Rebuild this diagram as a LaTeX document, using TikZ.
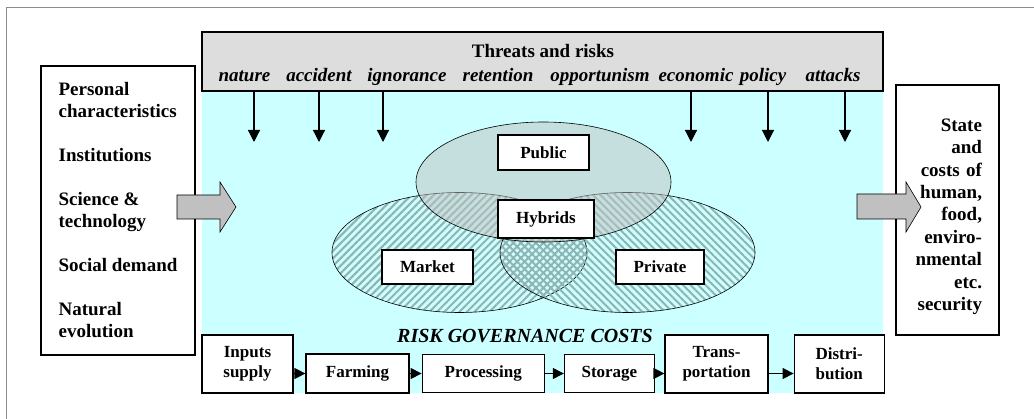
\documentclass[tikz,border=0pt]{standalone}
\usepackage{fontspec}
\setmainfont{Liberation Serif}
\usetikzlibrary{positioning,shapes.geometric,arrows.meta,patterns.meta}
\definecolor{riskcyan}{HTML}{CCFFFF}
\definecolor{threatgray}{HTML}{DDDDDD}
\definecolor{blockgray}{HTML}{C0C0C0}

\begin{document}
\begin{tikzpicture}[x=1pt,y=-1pt,
box/.style={rectangle, draw=black, fill=white, line width=1.2pt, inner sep=0pt, align=center, font=\bfseries\fontsize{17}{20}\selectfont},
sidebox/.style={rectangle, draw=black, fill=white, line width=1.2pt, inner sep=0pt, font=\bfseries\fontsize{19}{22}\selectfont},
threat/.style={anchor=base, inner sep=0pt, font=\bfseries\itshape\fontsize{19}{22}\selectfont},
govset/.style={ellipse, draw=black, line width=0.6pt, minimum width=255pt, minimum height=120pt, inner sep=0pt},
hit/.style={line width=1.2pt, -{Triangle[length=12pt,width=12pt]}},
flow/.style={line width=1.2pt, -{Triangle[length=11pt,width=11pt]}},
bigarrow/.style={draw=black, line width=0.6pt, fill=blockgray}
]
\useasboundingbox (0,0) rectangle (1034,419);
\draw[black!45, line width=0.8pt] (6,419) -- (6,7) -- (1034,7);

% governance area and threats
\fill[riskcyan] (202,91) rectangle (883,393);
\node[rectangle, draw=black, fill=threatgray, line width=1.2pt, minimum width=681pt, minimum height=59pt, inner sep=0pt] (threats) at (542.5,61.5) {};
\node[threat, font=\bfseries\fontsize{19}{22}\selectfont] (threats_title) at (543,58) {Threats and risks};
\node[threat] (t_nature) at (244.5,82) {nature};
\node[threat] (t_accident) at (319,82) {accident};
\node[threat] (t_ignorance) at (407,82) {ignorance};
\node[threat] (t_retention) at (498,82) {retention};
\node[threat] (t_opportunism) at (600,82) {opportunism};
\node[threat] (t_economic) at (696,82) {economic};
\node[threat] (t_policy) at (763,82) {policy};
\node[threat] (t_attacks) at (833,82) {attacks};

\coordinate (hit_1) at (254,142);
\coordinate (hit_2) at (319,142);
\coordinate (hit_3) at (383,142);
\coordinate (hit_4) at (691,142);
\coordinate (hit_5) at (768,142);
\coordinate (hit_6) at (845,142);
\draw[hit] (hit_1 |- threats.south) -- (hit_1);
\draw[hit] (hit_2 |- threats.south) -- (hit_2);
\draw[hit] (hit_3 |- threats.south) -- (hit_3);
\draw[hit] (hit_4 |- threats.south) -- (hit_4);
\draw[hit] (hit_5 |- threats.south) -- (hit_5);
\draw[hit] (hit_6 |- threats.south) -- (hit_6);

% governance forms
\node[govset, pattern={Lines[angle=45,distance=5.3pt,line width=2pt]}, pattern color=black!30!riskcyan] (market_set) at (459.5,252.5) {};
\node[govset, pattern={Lines[angle=-45,distance=5.3pt,line width=2pt]}, pattern color=black!30!riskcyan] (private_set) at (627.5,252.5) {};
\node[govset, fill=blockgray, fill opacity=0.5] (public_set) at (543.5,182) {};

\node[box, minimum width=91pt, minimum height=35pt] (public) at (543.5,152.5) {Public};
\node[box, minimum width=96pt, minimum height=38pt] (hybrids) at (546,219) {Hybrids};
\node[box, minimum width=91pt, minimum height=34pt] (market) at (427.5,267) {Market};
\node[box, minimum width=88pt, minimum height=34pt] (private) at (660,267) {Private};

\node[anchor=base, inner sep=0pt, font=\bfseries\itshape\fontsize{20}{22}\selectfont] (costs) at (525,343) {RISK GOVERNANCE COSTS};

% supply chain
\node[box, minimum width=91pt, minimum height=58pt] (inputs) at (247.5,364) {Inputs\\supply};
\node[box, minimum width=103pt, minimum height=39pt] (farming) at (357.5,373.5) {Farming};
\node[box, minimum width=122pt, minimum height=38pt] (processing) [right=12pt of farming] {Processing};
\node[box, minimum width=90pt, minimum height=38pt] (storage) [right=19pt of processing] {Storage};
\node[box, minimum width=103pt, minimum height=58pt] (transport) at (716.5,364) {Trans-\\portation};
\node[box, minimum width=90pt, minimum height=58pt] (distribution) [right=25pt of transport] {Distri-\\bution};

\draw[flow] (inputs.east |- farming.west) -- (farming.west);
\draw[flow] (farming) -- (processing);
\draw[flow] (processing) -- (storage);
\draw[flow] (storage.east) -- (transport.west |- storage.east);
\draw[flow] (transport.east |- storage.east) -- (distribution.west |- storage.east);

% drivers and outcomes
\node[sidebox, minimum width=154pt, minimum height=289pt, align=left] (drivers) at (118,210.5) {Personal\\characteristics\\[22pt]Institutions\\[22pt]Science \&\\technology\\[22pt]Social demand\\[22pt]Natural\\evolution};
\node[sidebox, minimum width=103pt, minimum height=250pt, text width=69pt, align=right, text height=26pt, font=\bfseries\fontsize{19}{22.4}\selectfont] (security) at (947.5,210) {State\\and\\costs of\\human,\\food,\\enviro-\\nmental\\etc.\\security};

\draw[bigarrow] (177,195) -- (220,195) -- (220,182) -- (236,207) -- (220,232) -- (220,219) -- (177,219) -- cycle;
\draw[bigarrow] (857,194) -- (906,194) -- (906,182) -- (921,207) -- (906,232) -- (906,219) -- (857,219) -- cycle;
\end{tikzpicture}
\end{document}
